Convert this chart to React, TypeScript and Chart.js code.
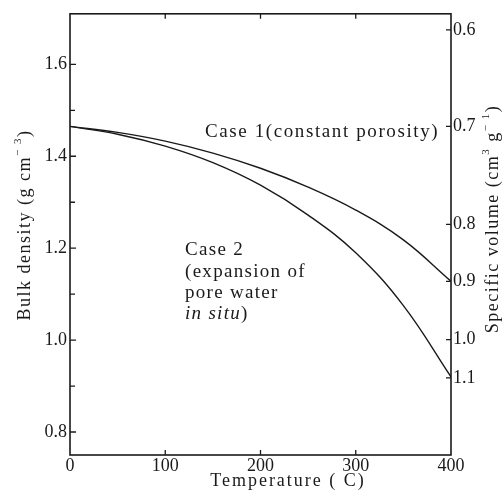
import React, { useEffect, useRef } from 'react';
import { Chart, registerables } from 'chart.js';

Chart.register(...registerables);

// ---- data ----
const temperatures = [0, 50, 100, 150, 200, 250, 300, 350, 400];
const case1Density = [1.465, 1.452, 1.433, 1.407, 1.374, 1.333, 1.283, 1.218, 1.128];
const case2Density = [1.465, 1.448, 1.422, 1.386, 1.337, 1.272, 1.19, 1.075, 0.92];

const xTicks = [0, 100, 200, 300, 400];
const xInnerTicks = [100, 200, 300];
const densityTicks = [0.8, 1.0, 1.2, 1.4, 1.6];
const densityMinorTicks = [0.9, 1.1, 1.3, 1.5];
const volumeLabels = ['0.6', '0.7', '0.8', '0.9', '1.0', '1.1'];
const volumeTickDensities = [1.675, 1.465, 1.252, 1.128, 1.001, 0.918];

const xMin = 0;
const xMax = 400;
const yMin = 0.75;
const yMax = 1.71;

const FONT = '"Liberation Serif", "Times New Roman", serif';
const INK = '#1a1a1a';

type Seg = { t: string; sup?: boolean; it?: boolean };

function drawRich(
  ctx: CanvasRenderingContext2D,
  x: number,
  y: number,
  segs: Seg[],
  size: number,
  spacing: number,
  align: 'left' | 'center'
) {
  const fontFor = (s: Seg) =>
    `${s.it ? 'italic ' : ''}${s.sup ? Math.round(size * 0.62) : size}px ${FONT}`;
  (ctx as any).letterSpacing = `${spacing}px`;
  let total = 0;
  const widths = segs.map((s) => {
    ctx.font = fontFor(s);
    const w = ctx.measureText(s.t).width;
    total += w;
    return w;
  });
  let cx = align === 'center' ? x - total / 2 : x;
  ctx.textAlign = 'left';
  ctx.textBaseline = 'middle';
  segs.forEach((s, i) => {
    ctx.font = fontFor(s);
    ctx.fillText(s.t, cx, s.sup ? y - size * 0.38 : y);
    cx += widths[i];
  });
  (ctx as any).letterSpacing = '0px';
}

const framePlugin = {
  id: 'framePlugin',
  afterDraw(chart: any) {
    const ctx: CanvasRenderingContext2D = chart.ctx;
    const { left, right, top, bottom } = chart.chartArea;
    const xs = chart.scales.x;
    const ys = chart.scales.y;
    ctx.save();
    ctx.strokeStyle = INK;
    ctx.fillStyle = INK;
    ctx.lineWidth = 1.6;
    ctx.strokeRect(left, top, right - left, bottom - top);

    ctx.lineWidth = 1.3;
    ctx.beginPath();
    densityTicks.forEach((v) => {
      const py = ys.getPixelForValue(v);
      ctx.moveTo(left, py);
      ctx.lineTo(left + 6, py);
    });
    densityMinorTicks.forEach((v) => {
      const py = ys.getPixelForValue(v);
      ctx.moveTo(left, py);
      ctx.lineTo(left + 5, py);
    });
    volumeTickDensities.forEach((v) => {
      const py = ys.getPixelForValue(v);
      ctx.moveTo(right, py);
      ctx.lineTo(right - 5, py);
    });
    xInnerTicks.forEach((v) => {
      const px = xs.getPixelForValue(v);
      ctx.moveTo(px, bottom);
      ctx.lineTo(px, bottom - 5);
      ctx.moveTo(px, top);
      ctx.lineTo(px, top + 5);
    });
    ctx.stroke();

    // axis titles
    drawRich(ctx, 288, 481, [{ t: 'Temperature ( C)' }], 18, 2, 'center');

    ctx.save();
    ctx.translate(25, 225);
    ctx.rotate(-Math.PI / 2);
    drawRich(
      ctx,
      0,
      0,
      [{ t: 'Bulk density (g cm' }, { t: '\u2212 3', sup: true }, { t: ')' }],
      18,
      1.5,
      'center'
    );
    ctx.restore();

    ctx.save();
    ctx.translate(493, 219);
    ctx.rotate(-Math.PI / 2);
    drawRich(
      ctx,
      0,
      0,
      [
        { t: 'Specific volume (cm' },
        { t: '3', sup: true },
        { t: ' g' },
        { t: '\u2212 1', sup: true },
        { t: ')' },
      ],
      18,
      1.5,
      'center'
    );
    ctx.restore();

    // annotations
    drawRich(ctx, 205, 132, [{ t: 'Case 1(constant porosity)' }], 19, 1.6, 'left');
    drawRich(ctx, 185, 250, [{ t: 'Case 2' }], 19, 1.3, 'left');
    drawRich(ctx, 185, 272, [{ t: '(expansion of' }], 19, 1.3, 'left');
    drawRich(ctx, 185, 293, [{ t: 'pore water' }], 19, 1.3, 'left');
    drawRich(ctx, 185, 314, [{ t: 'in situ', it: true }, { t: ')' }], 19, 1.3, 'left');

    ctx.restore();
  },
};

export default function App() {
  const ref = useRef<HTMLCanvasElement | null>(null);

  useEffect(() => {
    if (!ref.current) return;
    const tickFont = { family: FONT, size: 18 };
    const chart = new Chart(ref.current, {
      type: 'line',
      data: {
        datasets: [
          {
            label: 'Case 1',
            data: temperatures.map((t, i) => ({ x: t, y: case1Density[i] })),
            borderColor: INK,
            borderWidth: 1.4,
            pointRadius: 0,
            fill: false,
            tension: 0.4,
            yAxisID: 'y',
            xAxisID: 'x',
          },
          {
            label: 'Case 2',
            data: temperatures.map((t, i) => ({ x: t, y: case2Density[i] })),
            borderColor: INK,
            borderWidth: 1.4,
            pointRadius: 0,
            fill: false,
            tension: 0.4,
            yAxisID: 'y',
            xAxisID: 'x',
          },
        ],
      },
      options: {
        animation: false,
        responsive: false,
        devicePixelRatio: 1,
        layout: { padding: 0 },
        plugins: { legend: { display: false }, tooltip: { enabled: false } },
        scales: {
          x: {
            type: 'linear',
            position: 'bottom',
            min: xMin,
            max: xMax,
            grid: { display: false, drawTicks: false },
            border: { display: false },
            afterBuildTicks: (s: any) => {
              s.ticks = xTicks.map((v) => ({ value: v }));
            },
            afterFit: (s: any) => {
              s.height = 36;
            },
            ticks: { font: tickFont, color: INK, padding: 0, maxRotation: 0 },
          },
          x2: {
            type: 'linear',
            position: 'top',
            min: xMin,
            max: xMax,
            grid: { display: false, drawTicks: false },
            border: { display: false },
            ticks: { display: false },
            afterFit: (s: any) => {
              s.height = 8;
            },
          },
          y: {
            type: 'linear',
            position: 'left',
            min: yMin,
            max: yMax,
            grid: { display: false, drawTicks: false },
            border: { display: false },
            afterBuildTicks: (s: any) => {
              s.ticks = densityTicks.map((v) => ({ value: v }));
            },
            afterFit: (s: any) => {
              s.width = 70;
            },
            ticks: {
              font: tickFont,
              color: INK,
              padding: 3,
              callback: (v: any) => Number(v).toFixed(1),
            },
          },
          y2: {
            type: 'linear',
            position: 'right',
            min: yMin,
            max: yMax,
            grid: { display: false, drawTicks: false },
            border: { display: false },
            afterBuildTicks: (s: any) => {
              s.ticks = volumeTickDensities.map((v) => ({ value: v }));
            },
            afterFit: (s: any) => {
              s.width = 53;
            },
            ticks: {
              font: tickFont,
              color: INK,
              padding: 2,
              callback: (_v: any, i: number) => volumeLabels[i],
            },
          },
        },
      },
      plugins: [framePlugin],
    } as any);
    return () => chart.destroy();
  }, []);

  return (
    <div style={{ position: 'absolute', left: 0, top: 0, width: 504, height: 491, background: '#fff' }}>
      <canvas ref={ref} width={504} height={491} style={{ width: 504, height: 491 }} />
    </div>
  );
}
